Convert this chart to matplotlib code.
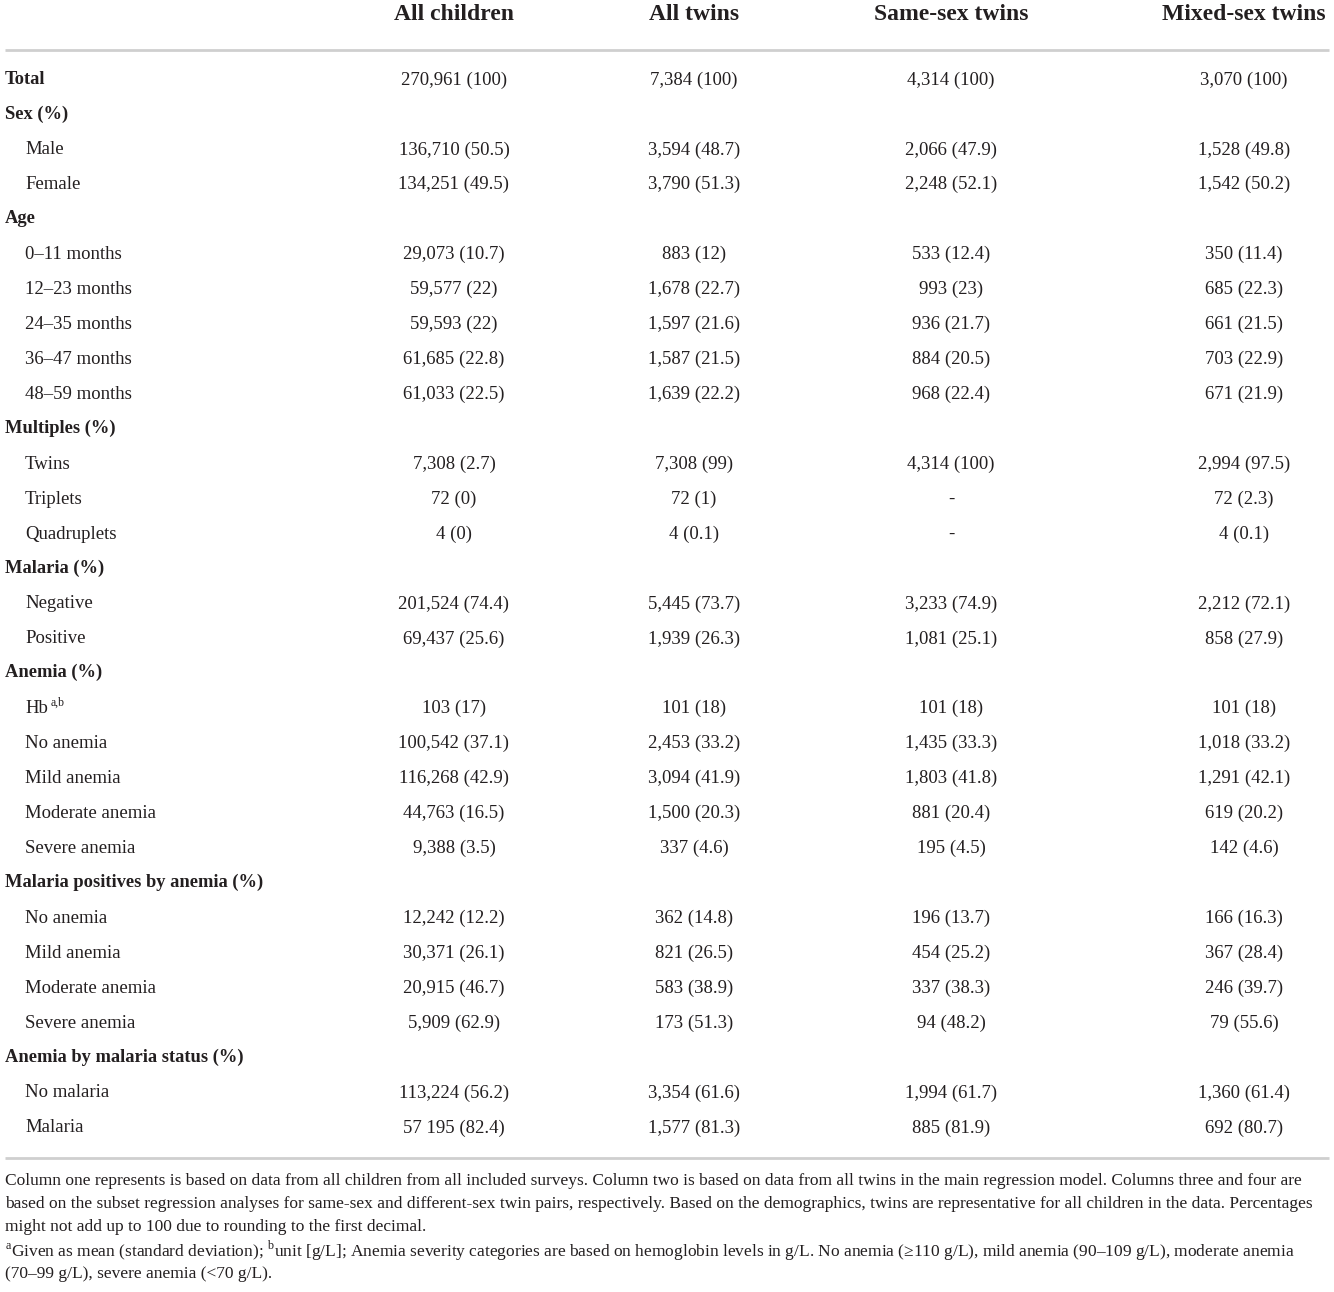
import matplotlib
matplotlib.use("Agg")
import matplotlib.pyplot as plt

plt.rcParams['font.family'] = ['Liberation Serif', 'DejaVu Serif']
plt.rcParams['mathtext.fontset'] = 'custom'
plt.rcParams['mathtext.rm'] = 'Liberation Serif'

columns = ['All children', 'All twins', 'Same-sex twins', 'Mixed-sex twins']

row_labels = ['Total', 'Sex (%)', 'Male', 'Female', 'Age', '0–11 months', '12–23 months',
              '24–35 months', '36–47 months', '48–59 months', 'Multiples (%)', 'Twins',
              'Triplets', 'Quadruplets', 'Malaria (%)', 'Negative', 'Positive', 'Anemia (%)',
              'Hb', 'No anemia', 'Mild anemia', 'Moderate anemia', 'Severe anemia',
              'Malaria positives by anemia (%)', 'No anemia', 'Mild anemia', 'Moderate anemia',
              'Severe anemia', 'Anemia by malaria status (%)', 'No malaria', 'Malaria']
# 1 = bold section row, 0 = indented item
row_bold = [1, 1, 0, 0, 1, 0, 0, 0, 0, 0, 1, 0, 0, 0, 1, 0, 0, 1, 0, 0, 0, 0, 0, 1, 0, 0, 0, 0, 1, 0, 0]

all_children = ['270,961 (100)', '', '136,710 (50.5)', '134,251 (49.5)', '', '29,073 (10.7)',
                '59,577 (22)', '59,593 (22)', '61,685 (22.8)', '61,033 (22.5)', '', '7,308 (2.7)',
                '72 (0)', '4 (0)', '', '201,524 (74.4)', '69,437 (25.6)', '', '103 (17)',
                '100,542 (37.1)', '116,268 (42.9)', '44,763 (16.5)', '9,388 (3.5)', '',
                '12,242 (12.2)', '30,371 (26.1)', '20,915 (46.7)', '5,909 (62.9)', '',
                '113,224 (56.2)', '57 195 (82.4)']
all_twins = ['7,384 (100)', '', '3,594 (48.7)', '3,790 (51.3)', '', '883 (12)', '1,678 (22.7)',
             '1,597 (21.6)', '1,587 (21.5)', '1,639 (22.2)', '', '7,308 (99)', '72 (1)', '4 (0.1)',
             '', '5,445 (73.7)', '1,939 (26.3)', '', '101 (18)', '2,453 (33.2)', '3,094 (41.9)',
             '1,500 (20.3)', '337 (4.6)', '', '362 (14.8)', '821 (26.5)', '583 (38.9)',
             '173 (51.3)', '', '3,354 (61.6)', '1,577 (81.3)']
same_sex = ['4,314 (100)', '', '2,066 (47.9)', '2,248 (52.1)', '', '533 (12.4)', '993 (23)',
            '936 (21.7)', '884 (20.5)', '968 (22.4)', '', '4,314 (100)', '-', '-', '',
            '3,233 (74.9)', '1,081 (25.1)', '', '101 (18)', '1,435 (33.3)', '1,803 (41.8)',
            '881 (20.4)', '195 (4.5)', '', '196 (13.7)', '454 (25.2)', '337 (38.3)', '94 (48.2)',
            '', '1,994 (61.7)', '885 (81.9)']
mixed_sex = ['3,070 (100)', '', '1,528 (49.8)', '1,542 (50.2)', '', '350 (11.4)', '685 (22.3)',
             '661 (21.5)', '703 (22.9)', '671 (21.9)', '', '2,994 (97.5)', '72 (2.3)', '4 (0.1)',
             '', '2,212 (72.1)', '858 (27.9)', '', '101 (18)', '1,018 (33.2)', '1,291 (42.1)',
             '619 (20.2)', '142 (4.6)', '', '166 (16.3)', '367 (28.4)', '246 (39.7)', '79 (55.6)',
             '', '1,360 (61.4)', '692 (80.7)']

footnotes = [
    'Column one represents is based on data from all children from all included surveys. Column two is based on data from all twins in the main regression model. Columns three and four are',
    'based on the subset regression analyses for same-sex and different-sex twin pairs, respectively. Based on the demographics, twins are representative for all children in the data. Percentages',
    'might not add up to 100 due to rounding to the first decimal.',
    r'$^{\mathrm{a}}$Given as mean (standard deviation); $^{\mathrm{b}}$unit [g/L]; Anemia severity categories are based on hemoglobin levels in g/L. No anemia (≥110 g/L), mild anemia (90–109 g/L), moderate anemia',
    '(70–99 g/L), severe anemia (<70 g/L).',
]

W, H = 1334, 1292
fig = plt.figure(figsize=(W / 100, H / 100), dpi=100)
ax = fig.add_axes([0, 0, 1, 1])
ax.set_xlim(0, W)
ax.set_ylim(H, 0)
ax.axis('off')

ink = '#231f20'
col_x = [454, 694, 951, 1244]

for x, name in zip(col_x, columns):
    ax.text(x, 14, name, ha='center', va='center', fontsize=17, fontweight='bold', color=ink)

ax.plot([5, 1329], [50, 50], color='#cfcfcf', lw=2, solid_capstyle='butt')
ax.plot([5, 1329], [1158, 1158], color='#cfcfcf', lw=2, solid_capstyle='butt')

y0, dy = 79, 34.93
data_cols = [all_children, all_twins, same_sex, mixed_sex]
for i, (lab, b) in enumerate(zip(row_labels, row_bold)):
    y = y0 + i * dy
    if b:
        ax.text(5, y, lab, ha='left', va='center', fontsize=13.3, fontweight='bold', color=ink)
    else:
        ax.text(25, y + 1, lab, ha='left', va='center', fontsize=13.5, color=ink)
        if lab == 'Hb':
            ax.text(51, y - 5, 'a,b', ha='left', va='center', fontsize=8.5, color=ink)
    for x, col in zip(col_x, data_cols):
        if col[i]:
            ax.text(x, y + 1, col[i], ha='center', va='center', fontsize=13.5, color=ink)

for j, line in enumerate(footnotes):
    ax.text(5, 1181 + j * 23.2, line, ha='left', va='center', fontsize=12.5, color=ink)

fig.savefig('out.png', dpi=100)
